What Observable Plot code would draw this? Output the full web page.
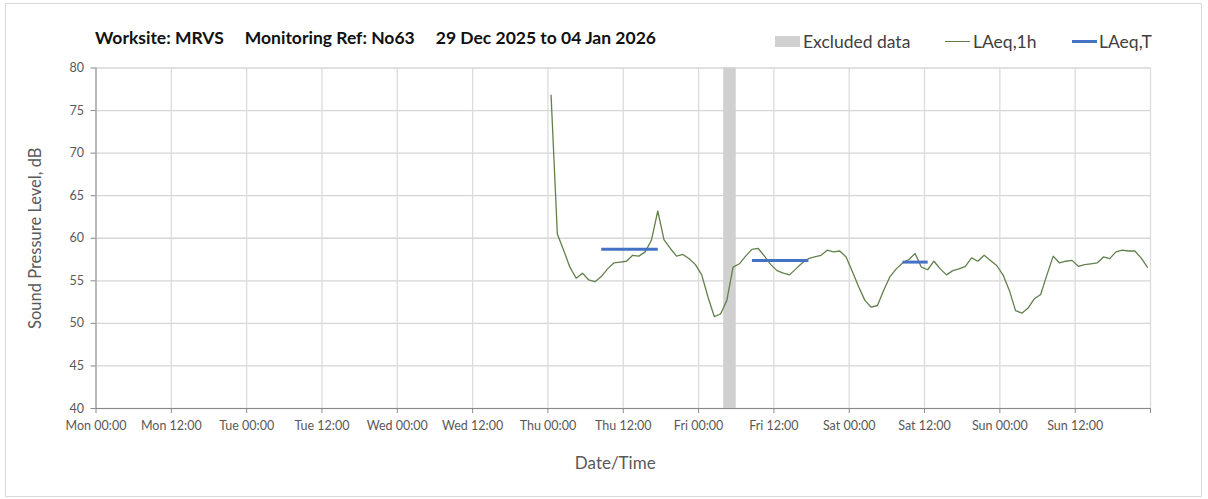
<!DOCTYPE html>
<html>
<head>
<meta charset="utf-8">
<script src="https://cdn.jsdelivr.net/npm/d3@7"></script>
<script src="https://cdn.jsdelivr.net/npm/@observablehq/plot@0.6"></script>
<style>
  html, body { margin: 0; padding: 0; background: #fff; }
  body { font-family: Lato, "Open Sans", sans-serif; width: 1208px; height: 499px; position: relative; overflow: hidden; }
  #frame { position: absolute; left: 5px; top: 3px; width: 1197px; height: 494px; border: 1px solid #d9d9d9; box-sizing: border-box; pointer-events: none; }
  #header { position: relative; width: 1208px; height: 55px; }
  #title { position: absolute; left: 95px; top: 27px; font-weight: bold; font-size: 17.5px; color: #111; white-space: pre; }
  #title span { margin-right: 21px; }
  .leg { position: absolute; top: 31px; font-size: 17.5px; color: #404040; white-space: nowrap; line-height: 21px; }
  .sw { position: absolute; }
</style>
</head>
<body>
<div id="frame"></div>
<div id="header">
  <div id="title"></div>
  <div id="legend"></div>
</div>
<div id="chart"></div>
<script>
// ---- Data ----
const titleParts = ["Worksite: MRVS", "Monitoring Ref: No63", "29 Dec 2025 to 04 Jan 2026"];
const legendLabels = ["Excluded data", "LAeq,1h", "LAeq,T"];
const seriesColors = ["#d0d0d0", "#62804c", "#4472c4"];

const axisStart = "2025-12-29T00:00Z";   // Mon 00:00
const axisEnd = "2026-01-05T00:00Z";     // following Mon 00:00
const xTickLabels = ["Mon 00:00","Mon 12:00","Tue 00:00","Tue 12:00","Wed 00:00","Wed 12:00",
  "Thu 00:00","Thu 12:00","Fri 00:00","Fri 12:00","Sat 00:00","Sat 12:00","Sun 00:00","Sun 12:00"];
const yTicks = [40, 45, 50, 55, 60, 65, 70, 75, 80];

// Hourly LAeq,1h values, first hour plotted at Thu 01 Jan 2026 00:30
const laeq1hStart = "2026-01-01T00:30Z";
const laeq1h = [
  76.8, 60.5, 58.6, 56.6, 55.3, 55.9, 55.1, 54.9, 55.5, 56.4, 57.1, 57.2,
  57.3, 58.0, 57.9, 58.4, 59.8, 63.2, 59.8, 58.8, 57.9, 58.1, 57.6, 56.9,
  55.7, 53.1, 50.8, 51.1, 52.7, 56.6, 57.0, 57.9, 58.7, 58.8, 57.9, 56.9,
  56.2, 55.9, 55.7, 56.4, 57.1, 57.6, 57.8, 58.0, 58.6, 58.4, 58.5, 57.8,
  56.1, 54.3, 52.7, 51.9, 52.1, 53.9, 55.5, 56.4, 57.1, 57.5, 58.2, 56.6,
  56.3, 57.3, 56.4, 55.7, 56.2, 56.4, 56.7, 57.7, 57.3, 58.0, 57.4, 56.8,
  55.7, 53.9, 51.5, 51.2, 51.8, 52.9, 53.4, 55.7, 57.9, 57.1, 57.3, 57.4,
  56.7, 56.9, 57.0, 57.1, 57.8, 57.6, 58.4, 58.6, 58.5, 58.5, 57.7, 56.6
];

// LAeq,T periods
const laeqTStart = ["2026-01-01T08:30Z", "2026-01-02T08:30Z", "2026-01-03T08:30Z"];
const laeqTEnd   = ["2026-01-01T17:30Z", "2026-01-02T17:30Z", "2026-01-03T12:30Z"];
const laeqTValue = [58.7, 57.4, 57.2];

// Excluded data periods
const excludedStart = ["2026-01-02T04:00Z"];
const excludedEnd   = ["2026-01-02T06:00Z"];

// ---- Build tables ----
const H = 3600 * 1000;
const t0 = new Date(laeq1hStart).getTime();
const lineData = laeq1h.map((v, i) => ({ t: new Date(t0 + i * H), v }));
const tData = laeqTValue.map((v, i) => ({ x1: new Date(laeqTStart[i]), x2: new Date(laeqTEnd[i]), v }));
const exData = excludedStart.map((s, i) => ({ x1: new Date(s), x2: new Date(excludedEnd[i]) }));
const dStart = new Date(axisStart), dEnd = new Date(axisEnd);
const xTicks = d3.utcHour.every(12).range(dStart, new Date(+dEnd + 1));
const labelMap = new Map(xTickLabels.map((l, i) => [+xTicks[i], l]));

// ---- Header ----
const title = document.getElementById("title");
titleParts.forEach(p => { const s = document.createElement("span"); s.textContent = p; title.appendChild(s); });
const legend = document.getElementById("legend");
const legItems = [
  { x: 775, kind: "rect", label: legendLabels[0], color: seriesColors[0], tx: 803 },
  { x: 945, kind: "thin", label: legendLabels[1], color: seriesColors[1], tx: 973 },
  { x: 1072, kind: "thick", label: legendLabels[2], color: seriesColors[2], tx: 1099 }
];
legItems.forEach(it => {
  const sw = document.createElement("div");
  sw.className = "sw";
  sw.style.left = it.x + "px";
  sw.style.background = it.color;
  if (it.kind === "rect") { sw.style.top = "36px"; sw.style.width = "25px"; sw.style.height = "11px"; }
  else if (it.kind === "thin") { sw.style.top = "41px"; sw.style.width = "25px"; sw.style.height = "1.3px"; }
  else { sw.style.top = "40px"; sw.style.width = "25px"; sw.style.height = "3px"; }
  legend.appendChild(sw);
  const tx = document.createElement("div");
  tx.className = "leg";
  tx.style.left = it.tx + "px";
  tx.textContent = it.label;
  legend.appendChild(tx);
});

// ---- Chart ----
const chart = Plot.plot({
  width: 1208,
  height: 444,
  marginLeft: 95.5,
  marginRight: 58,
  marginTop: 12.5,
  marginBottom: 91,
  style: { fontFamily: "Lato, 'Open Sans', sans-serif", fontSize: "12.5px", color: "#595959", background: "transparent", overflow: "visible" },
  x: { type: "utc", domain: [dStart, dEnd] },
  y: { domain: [40, 80] },
  marks: [
    Plot.gridY(yTicks, { stroke: "#d6d6d6", strokeOpacity: 1, strokeWidth: 1.3 }),
    Plot.gridX(xTicks, { stroke: "#dcdcdc", strokeOpacity: 1, strokeWidth: 1.3 }),
    Plot.rect(exData, { x1: "x1", x2: "x2", fill: seriesColors[0] }),
    Plot.line(lineData, { x: "t", y: "v", stroke: seriesColors[1], strokeWidth: 1.3 }),
    Plot.link(tData, { x1: "x1", x2: "x2", y1: "v", y2: "v", stroke: seriesColors[2], strokeWidth: 3 }),
    Plot.ruleX([dStart], { stroke: "#8a8a8a", strokeWidth: 1 }),
    Plot.ruleY([40], { stroke: "#8a8a8a", strokeWidth: 1 }),
    Plot.axisX({ ticks: xTicks, tickFormat: d => labelMap.get(+d) ?? "", tickSize: 5, tickPadding: 8,
      stroke: "#8a8a8a", fill: "#595959", label: null }),
    Plot.axisY({ ticks: yTicks, tickSize: 5, tickPadding: 7, stroke: "#8a8a8a", fill: "#595959", label: null }),
    Plot.text(["Sound Pressure Level, dB"], { frameAnchor: "left", textAnchor: "middle", dx: -60, dy: 0, rotate: -90,
      fontSize: 16.5, fill: "#595959" }),
    Plot.text(["Date/Time"], { frameAnchor: "bottom", dx: -8, dy: 60, fontSize: 17, fill: "#595959" })
  ]
});
document.getElementById("chart").appendChild(chart);
</script>
</body>
</html>
